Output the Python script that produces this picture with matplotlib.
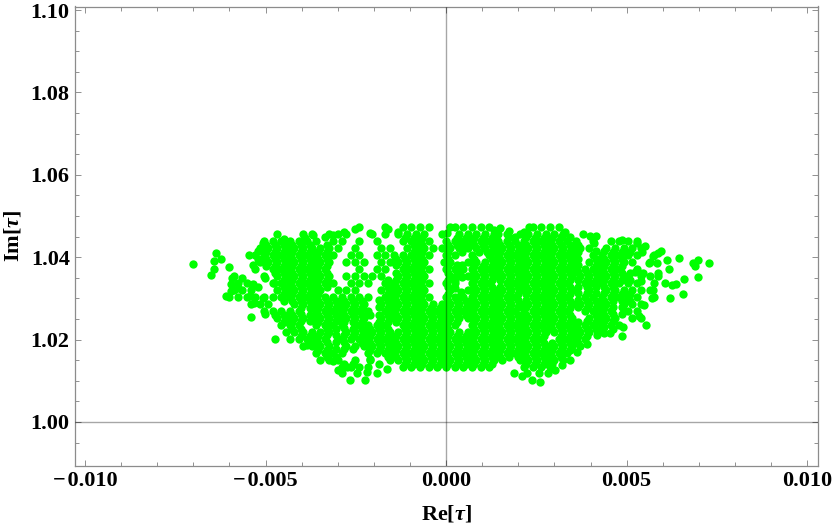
"""
Scatter of Re[tau] against Im[tau], values read off the reference plot
"""

import numpy as np
import matplotlib
matplotlib.use("Agg")
import matplotlib.pyplot as plt
from matplotlib.ticker import FixedLocator

# ============================================
# DATA (Re in units of 1e-3)
# ============================================

im_levels = [1.0133, 1.0150, 1.0167, 1.0184, 1.0201, 1.0218, 1.0235, 1.0252, 1.0269, 1.0286, 1.0303,
             1.0320, 1.0337, 1.0354, 1.0371, 1.0388, 1.0405, 1.0422, 1.0439, 1.0456, 1.0473]

re_rows = [
    [-1.20, -.96, -.72, -.48, -.24, 0, .24, .48, .72, .96, 1.20, -2.88, -2.64, -2.40, -2.16, 2.16, 2.40, 2.64, 2.88],
    [-3.48, -3.24, -3.00, -2.52, -1.56, -1.32, -1.08, -.84, -.60, -.36, -.12, .12, .36, .60, .84, 1.08, 1.32, 1.56,
     2.04, 2.28, 2.52, 2.76, 3.00, 3.24],
    [-3.60, -3.36, -3.12, -2.88, -1.92, -1.68, -1.44, -1.20, -.96, -.72, -.48, -.24, 0, .24, .48, .72, .96, 1.20,
     1.44, 1.68, 1.92, 2.16, 2.40, 2.64, 2.88, 3.12, 3.36],
    [-3.96, -3.72, -3.48, -3.24, -2.76, -2.52, -2.28, -2.04, -1.80, -1.56, -1.32, -1.08, -.84, -.60, -.36, -.12,
     .12, .36, .60, .84, 1.08, 1.32, 1.56, 1.80, 2.04, 2.28, 2.52, 2.76, 3.00, 3.24, 3.48, 3.72],
    [-4.32, -4.08, -3.84, -3.60, -3.36, -2.88, -2.64, -2.40, -2.16, -1.92, -1.68, -1.44, -1.20, -.96, -.72, -.48,
     -.24, 0, .24, .48, .72, .96, 1.20, 1.44, 1.68, 1.92, 2.16, 2.40, 2.64, 3.12, 3.36, 3.60, 3.84],
    [-4.44, -4.20, -3.96, -3.72, -3.48, -3.24, -2.76, -2.52, -2.28, -2.04, -1.80, -1.56, -1.32, -1.08, -.84, -.60,
     -.36, -.12, .12, .36, .60, .84, 1.08, 1.32, 1.56, 1.80, 2.04, 2.28, 2.52, 2.76, 3.00, 3.24, 3.48, 3.72, 3.96,
     4.20],
    [-4.56, -4.32, -4.08, -3.60, -3.36, -3.12, -2.88, -2.40, -2.16, -1.92, -1.68, -1.20, -.96, -.72, -.48, -.24, 0,
     .24, .72, .96, 1.20, 1.44, 1.68, 1.92, 2.16, 2.40, 2.64, 2.88, 3.12, 3.36, 3.60, 3.84, 4.08, 4.32, 4.56, 4.80],
    [-4.68, -4.44, -4.20, -3.96, -3.72, -3.48, -3.24, -3.00, -2.76, -2.52, -2.28, -1.80, -1.56, -1.32, -1.08, -.84,
     -.60, -.36, -.12, .12, .36, .60, .84, 1.08, 1.32, 1.56, 1.80, 2.04, 2.28, 2.52, 2.76, 3.00, 3.24, 3.48, 3.96,
     4.20, 4.44, 4.68, 5.16, 5.40],
    [-5.04, -4.80, -4.56, -4.32, -4.08, -3.60, -3.36, -3.12, -2.88, -2.64, -2.40, -2.16, -1.68, -1.44, -1.20, -.96,
     -.72, -.48, -.24, 0, .24, .48, .72, .96, 1.20, 1.44, 1.68, 1.92, 2.16, 2.40, 2.64, 2.88, 3.12, 3.36, 3.84,
     4.08, 4.32, 4.56, 5.04, 5.28],
    [-5.40, -5.16, -4.92, -4.20, -3.96, -3.72, -3.48, -3.24, -3.00, -2.76, -2.52, -2.28, -1.80, -1.56, -1.32, -1.08,
     -.84, -.60, -.36, -.12, .12, .36, .60, .84, 1.08, 1.32, 1.56, 1.80, 2.28, 2.52, 2.76, 3.00, 3.24, 3.48, 3.72,
     3.96, 4.20, 4.44, 4.92, 5.16, 5.40],
    [-6.00, -5.76, -5.52, -5.28, -5.04, -4.80, -4.56, -4.32, -4.08, -3.84, -3.60, -3.36, -3.12, -2.88, -2.64, -2.40,
     -2.16, -1.68, -1.44, -1.20, -.96, -.72, -.48, 0, .24, .48, .72, .96, 1.20, 1.44, 1.68, 1.92, 2.40, 2.64,
     2.88, 3.12, 3.36, 3.84, 4.08, 4.32, 4.56, 4.80, 5.04, 5.28, 5.76],
    [-5.88, -5.64, -5.40, -4.68, -4.44, -4.20, -3.96, -3.72, -3.48, -3.00, -2.76, -2.52, -1.80, -1.56, -1.32, -1.08,
     -.84, -.60, .12, .60, .84, 1.08, 1.32, 1.56, 1.80, 2.04, 2.28, 2.52, 2.76, 3.00, 3.24, 3.48, 3.96, 4.44,
     4.68, 4.92, 5.16, 5.40, 5.64],
    [-5.76, -5.52, -4.80, -4.56, -4.32, -4.08, -3.84, -3.60, -3.36, -3.12, -2.64, -2.40, -2.16, -1.68, -1.44, -1.20,
     -.96, -.72, -.48, 0, .24, .72, .96, 1.20, 1.68, 1.92, 2.16, 2.40, 2.64, 2.88, 3.12, 3.36, 3.84, 4.08, 4.32,
     4.56, 4.80, 5.04, 5.28, 5.76],
    [-5.88, -5.04, -4.68, -4.44, -4.20, -3.96, -3.72, -3.48, -3.24, -2.76, -2.52, -2.28, -2.04, -1.80, -1.32, -1.08,
     -.84, -.60, .12, .60, .84, 1.08, 1.32, 1.56, 1.80, 2.04, 2.28, 2.52, 2.76, 3.00, 3.24, 3.48, 3.72,
     3.96, 4.20, 4.44, 4.68, 4.92, 5.40, 5.64, 5.88],
    [-5.28, -4.80, -4.56, -4.32, -4.08, -3.84, -3.60, -3.36, -2.40, -1.92, -1.68, -1.20, -.96, -.72, -.48, 0, .24,
     .48, .72, .96, 1.20, 1.44, 1.68, 1.92, 2.16, 2.40, 2.64, 2.88, 3.12, 3.36, 3.60, 3.84, 4.08, 4.32, 4.56, 4.80,
     5.28],
    [-5.16, -4.92, -4.68, -4.44, -4.20, -3.96, -3.72, -3.48, -3.24, -2.76, -2.52, -2.28, -1.80, -1.56, -1.32, -1.08,
     -.84, -.60, -.06, .12, .60, .84, 1.08, 1.32, 1.56, 1.80, 2.04, 2.28, 2.52, 2.76, 3.00, 3.24, 3.48, 3.96, 4.20,
     4.44, 4.68, 4.92, 5.16, 5.64],
    [-5.28, -5.04, -4.80, -4.56, -4.32, -4.08, -3.84, -3.60, -3.36, -3.12, -2.64, -2.40, -1.92, -1.68, -1.44, -1.20,
     -.96, -.72, -.48, 0, .24, .72, 1.20, 1.44, 1.68, 1.92, 2.16, 2.40, 2.64, 2.88, 3.12, 3.36, 3.60, 4.08, 4.32,
     4.56, 4.80, 5.04, 5.28, 5.76],
    [-5.16, -4.92, -4.68, -4.44, -4.20, -3.96, -3.72, -3.48, -3.24, -3.00, -2.52, -1.80, -1.56, -1.08, -.84, -.60,
     -.36, -.12, .12, .36, .60, .84, 1.08, 1.32, 1.56, 1.80, 2.04, 2.28, 2.52, 2.76, 3.00, 3.24, 3.48, 3.72, 3.96,
     4.44, 4.68, 4.92, 5.16, 5.40],
    [-5.04, -4.80, -4.56, -4.32, -4.08, -3.84, -3.60, -3.12, -2.88, -2.40, -1.92, -1.20, -.96, -.72, -.48, 0, .24,
     .48, .72, .96, 1.20, 1.44, 1.68, 1.92, 2.16, 2.40, 2.64, 2.88, 3.12, 3.36, 3.60, 4.08, 4.56, 4.80, 5.04, 5.28],
    [-4.68, -3.96, -3.72, -3.24, -3.00, -2.76, -2.04, -1.68, -1.32, -1.08, -.84, -.60, -.12, .36, .60, .84, 1.08,
     1.32, 1.68, 2.04, 2.28, 2.52, 2.76, 3.00, 3.24],
    [-2.40, -1.68, -1.20, -.96, -.72, -.48, .24, .48, .72, .96, 1.20, 2.40, 2.64, 2.88, 3.12],
]

# points between the rows above, inside the solid parts of the cloud
fill_levels = [1.01415, 1.01585, 1.01755, 1.01925, 1.02095, 1.02265, 1.02435, 1.02605, 1.02775, 1.02945,
               1.03115, 1.03285, 1.03455, 1.03625, 1.03795, 1.03965, 1.04135, 1.04305, 1.04475]

fill_rows = [
    [-2.82, -2.58, -1.14, -.90, -.66, -.42, -.18, .06, .30, .54, .78, 1.02, 1.26, 2.22, 2.46, 2.70, 2.94],
    [-3.30, -3.06, -1.62, -1.38, -1.14, -.90, -.66, -.42, -.18, .06, .30, .54, .78, 1.02, 1.26, 1.50, 1.74, 1.98,
     2.22, 2.46, 2.70, 2.94, 3.18],
    [-3.54, -3.30, -2.10, -1.86, -1.62, -1.38, -1.14, -.90, -.66, -.42, -.18, .06, .30, .54, .78, 1.02, 1.26, 1.50,
     1.74, 1.98, 2.22, 2.46, 2.70, 2.94, 3.18, 3.42],
    [-3.78, -3.54, -2.34, -2.10, -1.86, -1.62, -1.38, -1.14, -.90, -.66, -.42, -.18, .06, .30, .54, .78, 1.02, 1.26,
     1.50, 1.74, 1.98, 2.22, 2.46, 2.70, 2.94, 3.18, 3.42, 3.66],
    [-4.02, -3.78, -3.54, -2.58, -2.34, -2.10, -1.86, -1.62, -1.38, -1.14, -.90, -.66, -.42, -.18, .06, .30, .54,
     .78, 1.02, 1.26, 1.50, 1.74, 1.98, 2.22, 2.46, 2.70, 3.18, 3.42, 3.66, 3.90],
    [-4.26, -4.02, -3.30, -3.06, -2.58, -2.34, -2.10, -1.86, -1.62, -1.14, -.90, -.66, -.42, -.18, .06, .78, 1.02,
     1.26, 1.50, 1.74, 1.98, 2.22, 2.46, 2.70, 2.94, 3.18, 3.42, 3.66, 3.90, 4.14],
    [-4.50, -4.26, -3.54, -3.30, -2.82, -2.58, -2.34, -1.86, -1.62, -1.38, -1.14, -.90, -.66, -.42, -.18, .06, .30,
     .78, 1.02, 1.26, 1.50, 1.74, 1.98, 2.22, 2.46, 2.70, 2.94, 3.18, 3.42, 3.66, 4.14],
    [-4.74, -4.50, -4.26, -3.30, -3.06, -2.82, -2.58, -1.62, -1.38, -1.14, -.90, -.66, -.42, -.18, .06, .30, .54,
     .78, 1.02, 1.26, 1.50, 1.74, 1.98, 2.22, 2.46, 2.70, 2.94, 3.18, 3.42, 4.14, 4.38],
    [-4.02, -3.78, -3.54, -3.30, -3.06, -2.82, -2.58, -2.34, -1.62, -1.38, -1.14, -.90, -.66, -.42, -.18, .06, .30,
     .54, .78, 1.02, 1.26, 1.50, 1.74, 2.46, 2.70, 2.94, 3.18, 3.42, 3.90, 4.14, 4.38],
    [-4.50, -4.26, -4.02, -3.78, -3.54, -3.30, -3.06, -2.82, -2.58, -2.34, -1.62, -1.38, -1.14, -.90, -.66, .06, .30,
     .54, .78, 1.02, 1.26, 1.50, 1.74, 2.46, 2.70, 2.94, 3.18, 3.42, 3.90, 4.14, 4.38, 4.62, 4.86, 5.10],
    [-4.50, -4.26, -4.02, -3.78, -3.54, -1.62, -1.38, -1.14, -.90, -.66, .06, .78, 1.02, 1.26, 1.50, 1.74, 1.98,
     2.22, 2.46, 2.70, 2.94, 3.18, 3.42, 4.62, 4.86, 5.10],
    [-4.50, -4.26, -4.02, -3.78, -3.54, -3.30, -1.62, -1.38, -1.14, -.90, -.66, .06, .78, 1.02, 1.74, 1.98, 2.22,
     2.46, 2.70, 2.94, 3.18, 3.42, 3.90, 4.14, 4.38, 4.62],
    [-4.50, -4.26, -4.02, -3.78, -3.54, -3.30, -1.38, -1.14, -.90, -.66, .06, .78, 1.02, 1.26, 1.50, 1.74, 1.98,
     2.22, 2.46, 2.70, 2.94, 3.18, 3.42, 3.66, 3.90, 4.14, 4.38, 4.62],
    [-4.74, -4.50, -4.26, -4.02, -3.78, -3.54, -3.30, -1.14, -.90, -.66, .06, .78, 1.02, 1.26, 1.50, 1.74, 1.98,
     2.22, 2.46, 2.70, 2.94, 3.18, 3.42, 3.90, 4.14, 4.38, 4.62],
    [-4.98, -4.74, -4.50, -4.26, -4.02, -3.78, -3.54, -3.30, -1.14, -.90, -.66, .06, .78, 1.02, 1.26, 1.50, 1.74,
     1.98, 2.22, 2.46, 2.70, 2.94, 3.18, 3.42, 4.14, 4.38, 4.62, 4.86],
    [-4.98, -4.74, -4.50, -4.26, -4.02, -3.78, -3.54, -1.14, -.90, -.66, .06, .78, 1.26, 1.50, 1.74, 1.98, 2.22,
     2.46, 2.70, 2.94, 3.18, 3.42, 4.38, 4.62, 4.86],
    [-4.98, -4.74, -4.50, -4.26, -4.02, -3.78, -3.54, -.90, -.66, .06, 1.26, 1.50, 1.74, 1.98, 2.22, 2.46, 2.70,
     2.94, 3.18, 3.42, 3.66, 4.62, 4.86, 5.10],
    [-4.98, -4.74, -4.50, -4.26, -4.02, -3.78, -.90, -.66, .06, .30, .54, .78, 1.02, 1.26, 1.50, 1.98, 2.22, 2.46,
     2.70, 2.94, 3.18],
    [-3.90, -1.14, -.90, -.66, .30, .54, .78, 1.02, 1.26, 2.46, 2.70, 2.94],
]

# isolated points around the edge of the cloud
extra_re = [-7.00, -6.38, -6.42, -6.24, -6.43, -6.50, -6.00, -5.92, -5.66, -5.95, -5.75, -5.95, -6.09, -5.43,
            -5.34, -5.20, -5.33, -5.41, -5.01, -5.08, -5.01, -4.76, -4.73, -5.35, -5.47, -5.08, -4.50, -3.86,
            -2.15, -2.12, -1.85, -1.64, -1.92, -2.98, -2.89, -2.66, -2.25, -2.48, -2.20, -2.75, -3.30, -3.12,
            -2.52, -2.10, -1.60, -1.34, -2.84, -3.35, -3.12, -3.68,
            7.27, 6.99, 6.97, 6.85, 6.88, 6.45, 6.11, 6.16, 6.59, 6.37, 6.25, 6.05, 6.20, 6.56, 5.96, 5.88,
            5.74, 5.63, 5.84, 5.24, 5.45, 5.39, 5.88, 5.74, 5.70, 5.49, 5.54, 4.87, 4.90, 5.33, 1.73, 1.50,
            3.80, 4.10, 4.15, 3.99, 1.87, 2.10, 2.59, 2.37, 2.23, 2.81, 2.56, 3.02, 3.20, 3.43, 3.62, 3.90,
            4.17, 4.36, 4.54, 5.42, 5.51, 5.28, 4.87]
extra_im = [1.0384, 1.0409, 1.0391, 1.0395, 1.0371, 1.0356, 1.0377, 1.0349, 1.0350, 1.0335, 1.0325, 1.0317, 1.0306,
            1.0306, 1.0335, 1.0327, 1.0288, 1.0256, 1.0261, 1.0302, 1.0350, 1.0338, 1.0201, 1.0381, 1.0405, 1.0435,
            1.0443, 1.0187, 1.0167, 1.0150, 1.0141, 1.0129, 1.0120, 1.0126, 1.0118, 1.0102, 1.0102, 1.0118, 1.0122,
            1.0134, 1.0159, 1.0147, 1.0468, 1.0458, 1.0468, 1.0460, 1.0462, 1.0450, 1.0454, 1.0454,
            1.0385, 1.0353, 1.0392, 1.0385, 1.0379, 1.0397, 1.0392, 1.0371, 1.0346, 1.0334, 1.0333, 1.0338, 1.0300,
            1.0311, 1.0414, 1.0409, 1.0404, 1.0387, 1.0387, 1.0365, 1.0361, 1.0343, 1.0361, 1.0320, 1.0300, 1.0284,
            1.0235, 1.0209, 1.0230, 1.0257, 1.0464, 1.0472, 1.0456, 1.0435, 1.0451, 1.0451, 1.0118, 1.0112, 1.0098,
            1.0102, 1.0118, 1.0118, 1.0118, 1.0126, 1.0138, 1.0150, 1.0171, 1.0190, 1.0210, 1.0215, 1.0215, 1.0413,
            1.0427, 1.0435, 1.0442]

# points in the parts where the reference is solid and the rows still left a gap
patch_re = [.40, .42, .45, .42, .45, .45, .42, .30, .30, .25, .25, 1.98, 2.22, 1.98, 2.22, 2.05, 1.14, .90, 1.26,
            1.50, 3.66, 3.66, 3.66, 3.66, 3.66, 3.66, 3.66, 3.66, 3.42, 3.42, 3.20, 3.42, 2.16, 2.30, 3.30, 1.92,
            2.22, 3.18, .12, 1.32, .02, 1.44, 1.74, 1.74, 4.14, 4.38, 4.14, 4.86, 5.10, 4.38, 4.14, 3.90, 5.10, 4.86,
            4.62, 4.86, 4.62, 4.86, 4.38, 3.90, 4.62, 4.38, 4.62,
            -2.34, -2.10, -1.86, -1.86, -1.86, -1.86, -3.54, -3.78, -3.78, -4.02, -4.02, -2.82, -3.06, -3.06, -3.30,
            -3.30, -3.06, -2.82, -2.82, -2.58, -2.82, -3.06, -2.10, -3.54, -3.30, -3.30, -3.30, -5.22, -5.22, -1.38,
            -1.38, -1.38, -1.60]
patch_im = [1.0305, 1.0315, 1.0352, 1.0368, 1.0380, 1.0412, 1.0425, 1.0360, 1.0380, 1.0345, 1.0325, 1.0278, 1.0278,
            1.0295, 1.0295, 1.0286, 1.0413, 1.0413, 1.0328, 1.0328, 1.0278, 1.0295, 1.0312, 1.0328, 1.0363, 1.0380,
            1.0396, 1.0430, 1.0430, 1.0448, 1.0448, 1.0412, 1.0462, 1.0473, 1.0462, 1.0448, 1.0448, 1.0448, 1.0473,
            1.0465, 1.0458, 1.0456, 1.0430, 1.0448, 1.0396, 1.0414, 1.0414, 1.0345, 1.0345, 1.0312, 1.0312, 1.0312,
            1.0362, 1.0362, 1.0278, 1.0278, 1.0262, 1.0262, 1.0245, 1.0245, 1.0245, 1.0230, 1.0225,
            1.0260, 1.0260, 1.0260, 1.0278, 1.0295, 1.0228, 1.0260, 1.0260, 1.0244, 1.0244, 1.0262, 1.0228, 1.0245,
            1.0212, 1.0212, 1.0195, 1.0195, 1.0212, 1.0195, 1.0178, 1.0178, 1.0178, 1.0152, 1.0412, 1.0395, 1.0412,
            1.0430, 1.0396, 1.0414, 1.0362, 1.0380, 1.0396, 1.0345]

x_ticks = [-0.010, -0.005, 0.0, 0.005, 0.010]
x_labels = ["\u2212\u200a0.010", "\u2212\u200a0.005", "0.000", "0.005", "0.010"]
x_minor = [-0.009, -0.008, -0.007, -0.006, -0.004, -0.003, -0.002, -0.001,
           0.001, 0.002, 0.003, 0.004, 0.006, 0.007, 0.008, 0.009]
y_ticks = [1.00, 1.02, 1.04, 1.06, 1.08, 1.10]
y_labels = ["1.00", "1.02", "1.04", "1.06", "1.08", "1.10"]
y_minor = [0.995, 1.005, 1.01, 1.015, 1.025, 1.03, 1.035, 1.045, 1.05, 1.055, 1.065, 1.07, 1.075, 1.085, 1.09, 1.095]

# ============================================
# PLOT
# ============================================

plt.rcParams["font.family"] = ["Liberation Serif", "DejaVu Serif"]
plt.rcParams["font.weight"] = "bold"
plt.rcParams["mathtext.fontset"] = "custom"
plt.rcParams["mathtext.rm"] = "Liberation Serif:bold"
plt.rcParams["mathtext.it"] = "Liberation Serif:italic:bold"
plt.rcParams["mathtext.bf"] = "Liberation Serif:bold"

re_vals = [v for row in re_rows for v in row]
re_vals += [v for row in fill_rows for v in row] + extra_re + patch_re
im_vals = [lev for lev, row in zip(im_levels, re_rows) for _ in row]
im_vals += [lev for lev, row in zip(fill_levels, fill_rows) for _ in row] + extra_im + patch_im

fig = plt.figure(figsize=(8.32, 5.24), dpi=100)
ax = fig.add_axes([74.5 / 832, 1 - 466 / 524, (818 - 74.5) / 832, (466 - 6.5) / 524])

ax.scatter(np.array(re_vals) * 1e-3, im_vals, s=36, color="#00ff00", linewidths=0, zorder=2)

ax.axhline(1.0, color="#000000", alpha=0.35, lw=1.0, zorder=3)
ax.axvline(0.0, color="#000000", alpha=0.35, lw=1.0, zorder=3)

ax.set_xlim(-0.01029, 0.01030)
ax.set_ylim(0.98932, 1.10085)

ax.set_xticks(x_ticks)
ax.set_xticklabels(x_labels, fontsize=16, fontweight="bold")
ax.set_yticks(y_ticks)
ax.set_yticklabels(y_labels, fontsize=16, fontweight="bold")
ax.xaxis.set_minor_locator(FixedLocator(x_minor))
ax.yaxis.set_minor_locator(FixedLocator(y_minor))

ax.tick_params(which="major", direction="in", length=4.5, width=0.7, color="#909090",
               top=True, right=True, pad=3.5)
ax.tick_params(which="minor", direction="in", length=2.6, width=0.7, color="#909090", top=True, right=True)

for spine in ax.spines.values():
    spine.set_color("#8c8c8c")
    spine.set_linewidth(0.9)

ax.set_xlabel(r"$\mathrm{Re[}\mathit{\tau}\mathrm{]}$", fontsize=16, labelpad=9)
ax.set_ylabel(r"$\mathrm{Im[}\mathit{\tau}\mathrm{]}$", fontsize=16, labelpad=5)

plt.savefig("out.png", dpi=100)
